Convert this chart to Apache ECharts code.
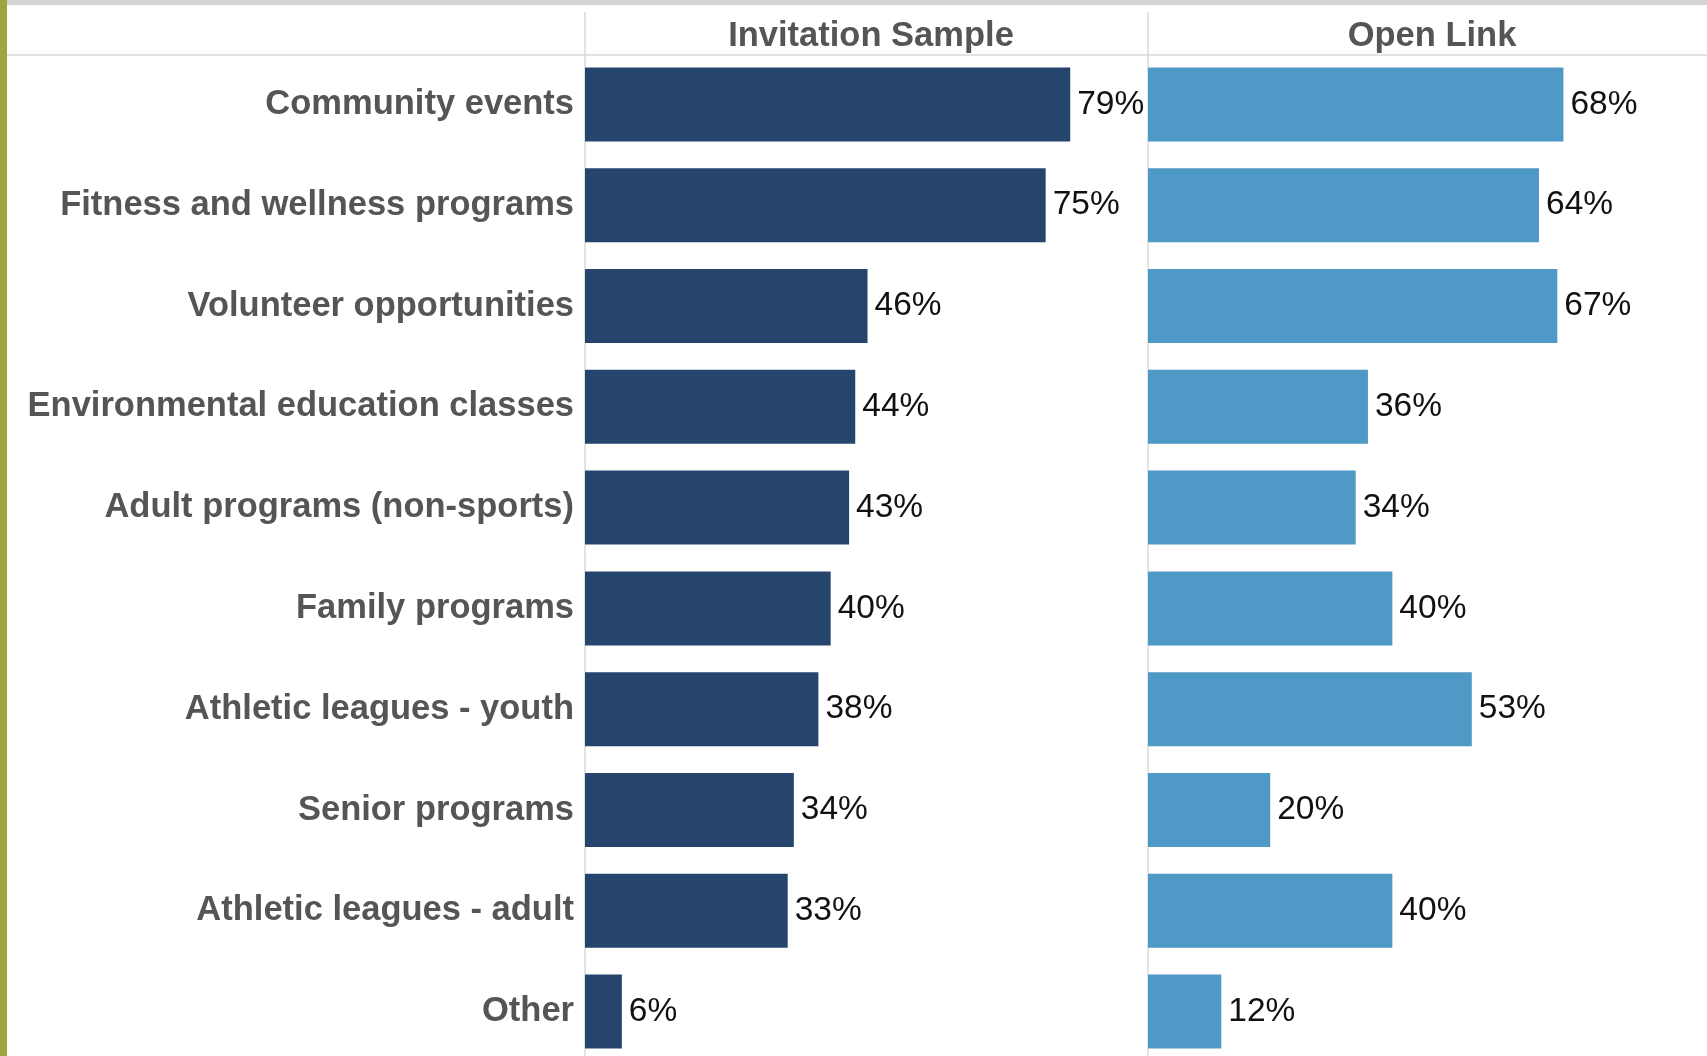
<!DOCTYPE html>
<html>
<head>
<meta charset="utf-8">
<script src="https://cdn.jsdelivr.net/npm/echarts@6/dist/echarts.min.js"></script>
<style>
  html, body { margin: 0; padding: 0; background: #fff; overflow: hidden; }
  #chart { width: 1707px; height: 1064px; }
</style>
</head>
<body>
<div id="chart"></div>
<script>
// data
const categories = [
    'Community events',
    'Fitness and wellness programs',
    'Volunteer opportunities',
    'Environmental education classes',
    'Adult programs (non-sports)',
    'Family programs',
    'Athletic leagues - youth',
    'Senior programs',
    'Athletic leagues - adult',
    'Other'
]
const panelNames = ['Invitation Sample', 'Open Link']
const invitationValues = [79, 75, 46, 44, 43, 40, 38, 34, 33, 6]
const openLinkValues = [68, 64, 67, 36, 34, 40, 53, 20, 40, 12]

const fontFam = 'Liberation Sans, Arial, sans-serif'
const gridLine = '#dadada'

let chartDom = document.getElementById('chart');
let myChart = echarts.init(chartDom);
let option;

function makeX(idx) {
    return {
        type: 'value',
        gridIndex: idx,
        min: 0,
        max: 91.5,
        show: false
    }
}

function makeY(idx, showLabels) {
    return {
        type: 'category',
        gridIndex: idx,
        data: categories,
        inverse: true,
        axisTick: {show: false},
        axisLine: {show: true, lineStyle: {color: gridLine, width: 1.5}},
        splitLine: {show: false},
        axisLabel: {
            show: showLabels,
            margin: 11,
            fontSize: 34.5,
            fontWeight: 'bold',
            color: '#555555',
            fontFamily: fontFam,
            padding: [15, 0, 0, 0]
        }
    }
}

function makeSeries(idx, name, values, color) {
    return {
        name: name,
        type: 'bar',
        xAxisIndex: idx,
        yAxisIndex: idx,
        data: values,
        barWidth: 74,
        itemStyle: {color: color},
        label: {
            show: true,
            position: 'right',
            distance: 7,
            formatter: '{c}%',
            fontSize: 33.5,
            color: '#111111',
            fontFamily: fontFam
        }
    }
}

option = {
    backgroundColor: '#ffffff',
    animation: false,
    title: [
        {
            text: panelNames[0],
            left: 866,
            top: 14,
            textAlign: 'center',
            textStyle: {fontSize: 34.5, fontWeight: 'bold', color: '#555555', fontFamily: fontFam}
        },
        {
            text: panelNames[1],
            left: 1427,
            top: 14,
            textAlign: 'center',
            textStyle: {fontSize: 34.5, fontWeight: 'bold', color: '#555555', fontFamily: fontFam}
        }
    ],
    grid: [
        {left: 585, top: 54, width: 562, height: 1008},
        {left: 1148, top: 54, width: 562, height: 1008}
    ],
    xAxis: [makeX(0), makeX(1)],
    yAxis: [makeY(0, true), makeY(1, false)],
    series: [
        makeSeries(0, panelNames[0], invitationValues, '#26456c'),
        makeSeries(1, panelNames[1], openLinkValues, '#4f99c6')
    ],
    graphic: [
        // top grey band
        {type: 'rect', shape: {x: 0, y: 0, width: 1707, height: 5}, style: {fill: '#d4d4d4'}, silent: true},
        // olive stripe on the left
        {type: 'rect', shape: {x: 0, y: 0, width: 7, height: 1064}, style: {fill: '#9ea53e'}, silent: true},
        // header separator
        {type: 'line', shape: {x1: 7, y1: 55, x2: 1707, y2: 55}, style: {stroke: gridLine, lineWidth: 1.5}, silent: true},
        // header column dividers
        {type: 'line', shape: {x1: 585, y1: 12, x2: 585, y2: 55}, style: {stroke: gridLine, lineWidth: 1.5}, silent: true},
        {type: 'line', shape: {x1: 1148, y1: 12, x2: 1148, y2: 55}, style: {stroke: gridLine, lineWidth: 1.5}, silent: true}
    ]
};

option && myChart.setOption(option);
</script>
</body>
</html>
